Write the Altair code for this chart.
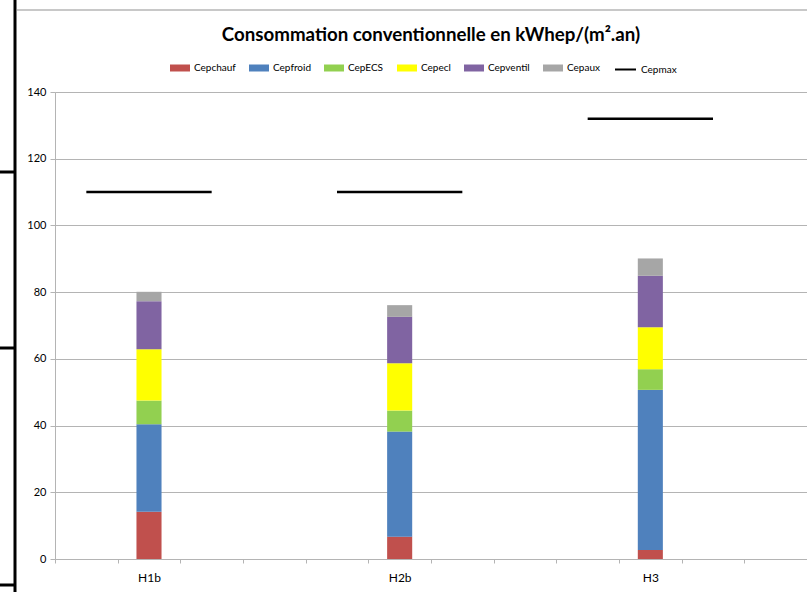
import altair as alt
import pandas as pd

# Climate zones and where each one sits on the 12-slot category axis
zones = ["H1b", "H2b", "H3"]
zone_slot = [1, 5, 9]
n_slots = 12

# Conventional consumption by use, kWhep/(m².an)
series = ["Cepchauf", "Cepfroid", "CepECS", "Cepecl", "Cepventil", "Cepaux"]
cepchauf = [14.2, 6.7, 2.7]
cepfroid = [26.2, 31.5, 48.0]
cepecs = [7.1, 6.3, 6.2]
cepecl = [15.4, 14.2, 12.6]
cepventil = [14.4, 13.9, 15.4]
cepaux = [2.8, 3.5, 5.2]

# Regulatory ceiling per zone
cepmax = [110, 110, 132]

colors = ["#C0504D", "#4F81BD", "#92D050", "#FFFF00", "#8064A2", "#A6A6A6"]

values = [cepchauf, cepfroid, cepecs, cepecl, cepventil, cepaux]
rows = []
for zi, (zone, slot) in enumerate(zip(zones, zone_slot)):
    for si, name in enumerate(series):
        rows.append({"slot": slot, "zone": zone, "serie": name,
                     "order": si, "value": values[si][zi]})
bars_df = pd.DataFrame(rows)

# The ceiling is drawn as a line across the slot before and after each zone
max_rows = []
for zone, slot, m in zip(zones, zone_slot, cepmax):
    for s in (slot - 1, slot, slot + 1):
        max_rows.append({"slot": s, "zone": zone, "serie": "Cepmax", "value": m})
max_df = pd.DataFrame(max_rows)

slot_labels = [""] * n_slots
for zone, slot in zip(zones, zone_slot):
    slot_labels[slot] = zone
label_expr = "[" + ",".join("'%s'" % s for s in slot_labels) + "][datum.value]"

FONT = "Lato, Liberation Sans, sans-serif"
GRID = "#B4B4B4"

x_enc = alt.X(
    "slot:O",
    scale=alt.Scale(domain=list(range(n_slots)), paddingInner=0, paddingOuter=0),
    axis=alt.Axis(
        title=None, labelAngle=0, labelExpr=label_expr, tickBand="extent",
        domainColor=GRID, tickColor=GRID, tickSize=4, labelPadding=9,
        labelFont=FONT, labelFontSize=12, labelColor="#000000", grid=False,
    ),
)
y_scale = alt.Scale(domain=[0, 140], nice=False)

bars = alt.Chart(bars_df).mark_bar(width=alt.RelativeBandSize(0.4)).encode(
    x=x_enc,
    y=alt.Y(
        "value:Q", stack="zero", scale=y_scale,
        axis=alt.Axis(
            title=None, values=list(range(0, 141, 20)), gridColor=GRID,
            domainColor=GRID, tickColor=GRID, tickSize=5, labelPadding=4,
            labelFont=FONT, labelFontSize=11, labelColor="#000000",
        ),
    ),
    color=alt.Color(
        "serie:N",
        scale=alt.Scale(domain=series, range=colors),
        sort=series,
        legend=alt.Legend(
            title=None, orient="none", direction="horizontal",
            legendX=115, legendY=-34,
            symbolType="M-1,-0.35H1V0.35H-1Z", symbolSize=400,
            symbolStrokeWidth=0, labelFont=FONT, labelFontSize=10,
            labelColor="#000000", labelOffset=4, columnPadding=13,
        ),
    ),
    order=alt.Order("order:Q"),
)

limit = alt.Chart(max_df).mark_line(strokeWidth=2.5).encode(
    x=alt.X("slot:O"),
    y=alt.Y("value:Q", scale=y_scale),
    detail="zone:N",
    stroke=alt.Stroke(
        "serie:N",
        scale=alt.Scale(domain=["Cepmax"], range=["#000000"]),
        legend=alt.Legend(
            title=None, orient="none", direction="horizontal",
            legendX=559, legendY=-34,
            symbolType="stroke", symbolSize=441, symbolStrokeWidth=2,
            labelFont=FONT, labelFontSize=10, labelColor="#000000",
            labelOffset=4,
        ),
    ),
)

# Page frame: dark left border with its side stubs, light top border
one = pd.DataFrame({"k": [0]})
frame = alt.Chart(one).mark_rule(color="#000000", strokeWidth=3).encode(
    x=alt.value(-40), y=alt.value(-92), y2=alt.value(500)
)
stubs = [
    alt.Chart(one).mark_rule(color="#000000", strokeWidth=3).encode(
        x=alt.value(-55), x2=alt.value(-40), y=alt.value(yy)
    )
    for yy in (80, 256, 493)
]
top_border = alt.Chart(one).mark_rule(color="#C8C8C8", strokeWidth=2).encode(
    x=alt.value(-38), x2=alt.value(760), y=alt.value(-82)
)

chart = alt.layer(bars, limit, frame, *stubs, top_border).properties(
    width=752,
    height=467,
    autosize=alt.AutoSizeParams(type="none"),
    padding={"left": 55, "top": 92, "right": 0, "bottom": 33},
    title=alt.TitleParams(
        "Consommation conventionnelle en kWhep/(m².an)",
        font=FONT, fontSize=18.7, fontWeight="bold", color="#000000",
        anchor="middle", offset=-46,
    ),
).configure_view(stroke=None).configure(background="#FFFFFF")

chart.save("out.html", embed_options={"renderer": "svg", "actions": False})
